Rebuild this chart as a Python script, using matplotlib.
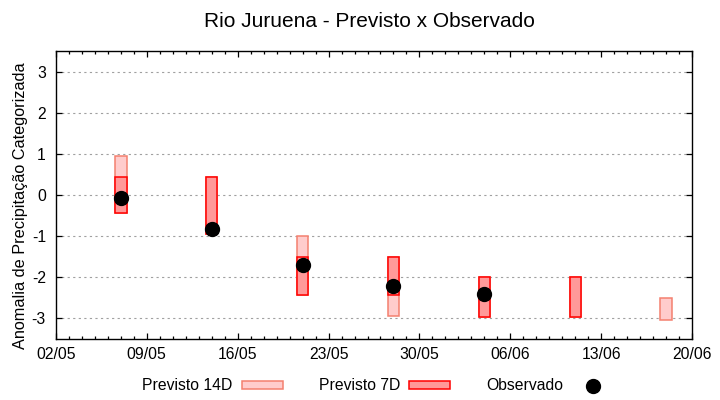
import datetime as dt
import numpy as np
import matplotlib
matplotlib.use("Agg")
import matplotlib.pyplot as plt
import matplotlib.dates as mdates
from matplotlib.patches import Patch
from matplotlib.lines import Line2D

plt.rcParams['font.family'] = ['Liberation Sans', 'DejaVu Sans']

# ---- data ----
dates = ["2024-05-07", "2024-05-14", "2024-05-21", "2024-05-28",
         "2024-06-04", "2024-06-11", "2024-06-18"]
prev14_top = [0.95, 0.43, -1.00, -1.52, -2.00, -2.00, -2.51]
prev14_bot = [-0.45, -0.96, -2.44, -2.95, -2.96, -2.96, -3.05]
prev7_top = [0.43, 0.43, -1.52, -1.52, -2.00, -2.00, np.nan]
prev7_bot = [-0.45, -0.96, -2.44, -2.44, -2.96, -2.96, np.nan]
observado = [-0.08, -0.84, -1.70, -2.22, -2.41, np.nan, np.nan]
yticks = [-3, -2, -1, 0, 1, 2, 3]
x_start, x_end = "2024-05-02", "2024-06-20"

title = "Rio Juruena - Previsto x Observado"
ylabel = "Anomalia de Precipitação Categorizada"
labels = ["Previsto 14D", "Previsto 7D", "Observado"]

# ---- figure ----
W, H = 720, 400
fig = plt.figure(figsize=(W / 100, H / 100), dpi=100)
L, R, T, B = 55.7, 692.3, 51.3, 338.7
ax = fig.add_axes([L / W, 1 - B / H, (R - L) / W, (B - T) / H])

x = np.array([mdates.date2num(dt.datetime.fromisoformat(d)) for d in dates])
p14t, p14b = np.array(prev14_top), np.array(prev14_bot)
p7t, p7b = np.array(prev7_top), np.array(prev7_bot)

c14_fill, c14_edge = '#ffcccc', '#f4806f'
c7_fill, c7_edge = '#ff9999', '#ff0000'

ax.bar(x, p14t - p14b, bottom=p14b, width=0.9, color=c14_fill,
       edgecolor=c14_edge, linewidth=1.1, zorder=2)
m7 = ~np.isnan(p7t)
ax.bar(x[m7], (p7t - p7b)[m7], bottom=p7b[m7], width=0.9, color=c7_fill,
       edgecolor=c7_edge, linewidth=1.1, zorder=3)
ax.plot(x, observado, 'o', color='black', markersize=10, zorder=4)

ax.set_ylim(-3.5, 3.5)
ax.set_yticks(yticks)
ax.set_yticklabels([str(v) for v in yticks])
x0 = mdates.date2num(dt.datetime.fromisoformat(x_start))
x1 = mdates.date2num(dt.datetime.fromisoformat(x_end))
ax.set_xlim(x0, x1)
ax.set_xticks(np.arange(x0, x1 + 0.5, 7))
ax.set_xticks(np.arange(x0, x1 + 0.5, 1), minor=True)
ax.xaxis.set_major_formatter(mdates.DateFormatter('%d/%m'))

ax.grid(axis='y', linestyle=(0, (2, 3)), color='#a0a0a0', linewidth=0.8, zorder=1)
ax.set_axisbelow(True)

for s in ax.spines.values():
    s.set_linewidth(1.0)
    s.set_color('black')
ax.tick_params(axis='both', which='major', direction='in', length=4.5,
               width=0.9, top=True, right=True, labelsize=11.3, pad=6)
ax.tick_params(axis='y', which='minor', left=False, right=False)
ax.tick_params(axis='x', which='minor', direction='in', length=2.3,
               width=0.9, top=True, bottom=True)
ax.tick_params(axis='x', which='major', pad=6)
ax.tick_params(axis='y', which='major', pad=7)

fig.text(369 / W, 1 - 27 / H, title, ha='center', va='baseline', fontsize=15)
fig.text(21 / W, 1 - 206 / H, ylabel, ha='center', va='center',
         rotation=90, fontsize=11.7)

handles = [Patch(facecolor=c14_fill, edgecolor=c14_edge, linewidth=1.1),
           Patch(facecolor=c7_fill, edgecolor=c7_edge, linewidth=1.1),
           Line2D([], [], marker='o', linestyle='none', color='black', markersize=10)]
fig.legend(handles, labels, loc='center left', bbox_to_anchor=(142 / W, 1 - 386 / H),
           ncol=3, frameon=False, fontsize=11.3, markerfirst=False,
           handlelength=2.6, handleheight=0.45, handletextpad=0.6,
           columnspacing=2.3, borderpad=0, borderaxespad=0)

fig.savefig('out.png', dpi=100)
